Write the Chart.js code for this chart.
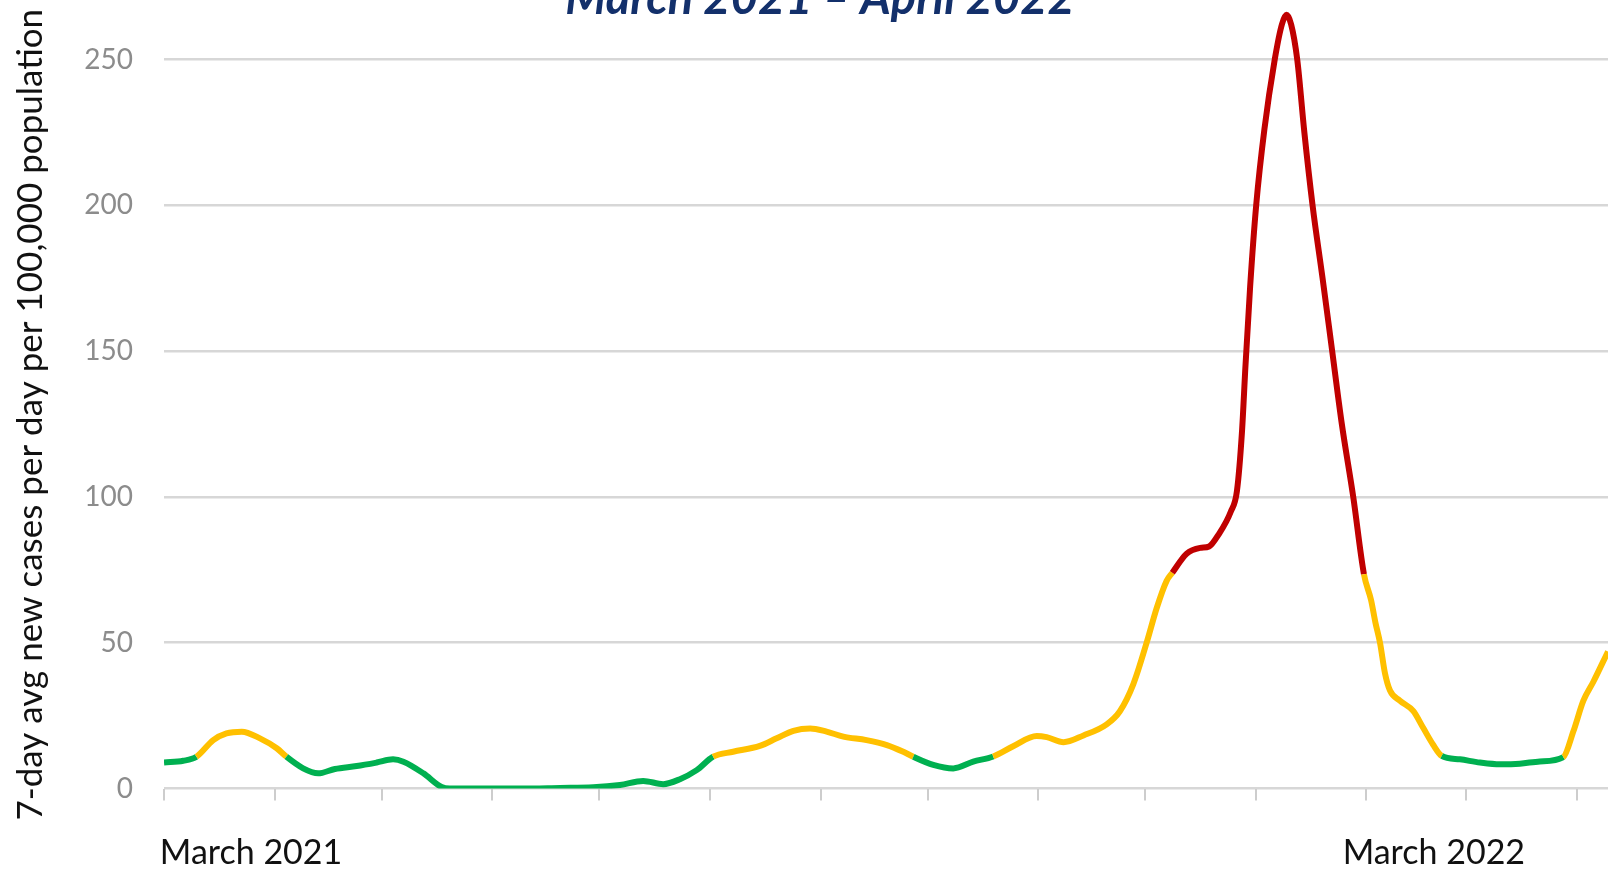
<!DOCTYPE html>
<html>
<head>
<meta charset="utf-8">
<script src="https://cdn.jsdelivr.net/npm/chart.js@4.4.1/dist/chart.umd.min.js"></script>
<style>
  html, body { margin: 0; padding: 0; background: #fff; overflow: hidden; }
  canvas { display: block; }
</style>
</head>
<body>
<canvas id="chart" width="1608" height="870"></canvas>
<script>
// days since 1 March 2021, and 7-day avg new cases per 100,000
const days = [
  0, 5.4, 9.1, 13.8, 17.5, 21.8, 26.9, 31.6, 34.3, 39.0, 43.2, 47.9, 54.0, 59.6, 64.2, 67.1, 72.7, 77.8, 80.1,
  100, 111, 120.3, 127.8, 134.3, 139.9, 144.6, 149.3, 153.9,
  159.5, 167.0, 171.7, 176.4, 181.1, 185.7, 190.4, 196.9, 202.6, 207.2, 210.0,
  215.6, 221.2, 226.8, 232.4, 238.0, 244.6, 247.4, 252.1, 257.7, 264.2, 267.9, 271.7, 275.4, 278.2, 281.0, 282.6,
  286.6, 290.4, 292.9, 295.5, 299.0, 300.7, 302.1, 303.1, 304.4, 306.1, 308.4, 311.3, 313.3, 314.6,
  315.9, 317.6, 319.6, 321.9, 324.7, 327.4, 330.1, 333.3, 336.3,
  338.3, 339.5, 340.8, 342.2, 343.6, 346.4, 350.1, 352.9, 355.7, 358.1,
  363.2, 368.8, 374.4, 380.0, 385.6, 392.2, 395.0, 397.8, 400.6, 404.7
];
const cases = [
  8.9, 9.5, 10.9, 16.6, 18.9, 19.5, 17.2, 13.8, 10.9, 6.9, 5.2, 6.7, 7.7, 8.9, 10.0, 9.2, 5.2, 0.5, 0,
  0, 0.2, 0.4, 1.2, 2.6, 1.5, 3.2, 6.3, 10.9,
  12.6, 14.6, 17.2, 19.8, 20.6, 19.5, 17.8, 16.6, 14.9, 12.6, 10.9,
  8.1, 6.9, 9.2, 11.0, 14.5, 18.0, 17.6, 15.9, 18.2, 22.0, 26.5, 35.9, 50.0, 61.8, 71.2, 74.0,
  80.5, 82.5, 83.0, 87.0, 95, 102, 122, 145, 172, 200, 226, 250, 262, 265.3,
  262, 250, 225, 200, 175, 150, 125, 100, 73.5,
  64.6, 57, 50, 39.5, 33.6, 30.1, 26.6, 20.8, 15.0, 11.2,
  10.0, 8.9, 8.3, 8.5, 9.3, 10.8, 19.6, 30.1, 36.6, 47
];

// month starts (tick marks) and the two date labels
const monthStarts = [0, 31, 61, 92, 122, 153, 184, 214, 245, 275, 306, 337, 365, 396];
const dateLabels = ['March 2021', 'March 2022'];
const dateLabelDays = [24.4, 355.9];
const yTicks = [0, 50, 100, 150, 200, 250];

const titleText = 'March 2021 \u2013 April 2022';
const yTitle = '7-day avg new cases per day per 100,000 population';

const GREEN = '#00B050', YELLOW = '#FFC000', RED = '#C00000';
function levelColor(ctx) {
  const lo = Math.min(ctx.p0.parsed.y, ctx.p1.parsed.y);
  if (lo >= 73.5) return RED;
  if (lo >= 10.5) return YELLOW;
  return GREEN;
}

const overlayText = {
  id: 'overlayText',
  afterDraw(chart) {
    const ctx = chart.ctx;
    ctx.save();
    ctx.fillStyle = '#13306b';
    ctx.font = 'italic 700 47px Lato';
    ctx.textAlign = 'center';
    ctx.textBaseline = 'alphabetic';
    ctx.fillText(titleText, 820, 13.5);
    ctx.restore();

    ctx.save();
    ctx.translate(42, 414.7);
    ctx.rotate(-Math.PI / 2);
    ctx.fillStyle = '#111';
    ctx.font = '35px Lato';
    ctx.textAlign = 'center';
    ctx.textBaseline = 'alphabetic';
    ctx.fillText(yTitle, 0, 0);
    ctx.restore();
  }
};

const zeroPad = s => { s.paddingTop = 0; s.paddingBottom = 0; s.paddingLeft = 0; s.paddingRight = 0; };

new Chart(document.getElementById('chart'), {
  type: 'line',
  data: {
    datasets: [{
      data: days.map((d, i) => ({ x: d, y: cases[i] })),
      borderWidth: 6,
      borderColor: GREEN,
      pointRadius: 0,
      cubicInterpolationMode: 'monotone',
      segment: { borderColor: levelColor }
    }]
  },
  plugins: [overlayText],
  options: {
    responsive: false,
    devicePixelRatio: 1,
    animation: false,
    layout: { padding: 0 },
    plugins: { legend: { display: false }, tooltip: { enabled: false } },
    scales: {
      y: {
        min: 0,
        max: 270.4,
        border: { display: false },
        grid: { color: '#d7d7d7', lineWidth: 2.5, drawTicks: false },
        ticks: { color: '#8c8c8c', font: { family: 'Lato', size: 28 }, padding: 31 },
        afterBuildTicks: s => { s.ticks = yTicks.map(v => ({ value: v })); },
        afterFit: s => { s.width = 164; zeroPad(s); }
      },
      x: {
        type: 'linear',
        min: 0,
        max: 404.7,
        border: { display: false },
        grid: { drawOnChartArea: false, drawTicks: true, tickLength: 12, color: '#cdcdcd', lineWidth: 2 },
        ticks: { callback: () => '' },
        afterBuildTicks: s => { s.ticks = monthStarts.map(v => ({ value: v })); },
        afterFit: s => { s.height = 14; zeroPad(s); }
      },
      xl: {
        type: 'linear',
        position: 'bottom',
        min: 0,
        max: 404.7,
        border: { display: false },
        grid: { display: false, drawTicks: false },
        ticks: {
          color: '#111',
          font: { family: 'Lato', size: 34 },
          padding: 30,
          maxRotation: 0,
          autoSkip: false,
          callback: (v, i) => dateLabels[i]
        },
        afterBuildTicks: s => { s.ticks = dateLabelDays.map(v => ({ value: v })); },
        afterFit: s => { s.height = 67.5; zeroPad(s); }
      }
    }
  }
});
</script>
</body>
</html>
